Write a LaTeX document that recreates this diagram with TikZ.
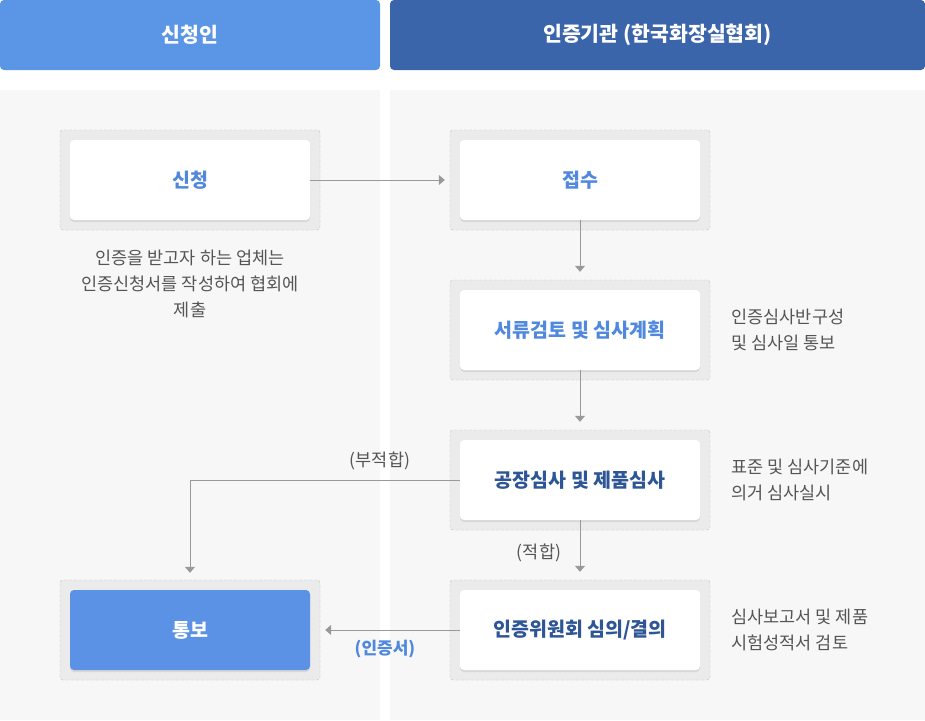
\documentclass[tikz,border=0pt]{standalone}
\usepackage{fontspec}
\setmainfont{Noto Sans CJK KR}
\usetikzlibrary{arrows.meta,shadows}
\definecolor{headlight}{HTML}{5B95E6}
\definecolor{headdark}{HTML}{3A65AA}
\definecolor{colbg}{HTML}{F7F7F7}
\definecolor{boxbg}{HTML}{EBEBEB}
\definecolor{boxline}{HTML}{C2C2C2}
\definecolor{linegray}{HTML}{999999}
\definecolor{txtblue}{HTML}{4F88DD}
\definecolor{txtnavy}{HTML}{2E5596}
\definecolor{txtgray}{HTML}{555555}
\definecolor{noticefill}{HTML}{5B92E5}
\begin{document}
\begin{tikzpicture}
[x=1pt,y=-1pt,
head/.style={rounded corners=4pt,minimum height=70pt,text=white,font=\bfseries\fontsize{20.5}{24}\selectfont},
outer/.style={draw=boxline,dashed,dash pattern=on 3pt off 2pt,fill=boxbg,rounded corners=3pt,minimum width=260pt,minimum height=100pt},
inner/.style={fill=white,rounded corners=4pt,minimum width=240pt,minimum height=80pt,
  drop shadow={shadow xshift=0pt,shadow yshift=-2pt,opacity=.18},
  text=txtblue,font=\bfseries\fontsize{19.5}{23}\selectfont},
desc/.style={text=txtgray,font=\fontsize{17.5}{26}\selectfont},
tag/.style={text=txtgray,font=\fontsize{17.5}{20}\selectfont},
link/.style={draw=linegray,line width=1pt,-{Triangle[width=10pt,length=6pt]}}]
\useasboundingbox (0,0) rectangle (925,720);
% columns
\fill[colbg] (0,90) rectangle (380,720);
\fill[colbg] (390,90) rectangle (925,720);
\node[head,fill=headlight,minimum width=380pt] (applicant) at (190,35) {신청인};
\node[head,fill=headdark,minimum width=535pt] (agency) at (657.5,35) {인증기관 (한국화장실협회)};
% steps
\node[outer] (apply-bg) at (190,180) {};
\node[inner] (apply) at (190,180) {신청};
\node[outer] (receive-bg) at (580,180) {};
\node[inner] (receive) at (580,180) {접수};
\node[outer] (review-bg) at (580,330) {};
\node[inner] (review) at (580,330) {서류검토 및 심사계획};
\node[outer] (audit-bg) at (580,480) {};
\node[inner,text=txtnavy] (audit) at (580,480) {공장심사 및 제품심사};
\node[outer] (decide-bg) at (580,630) {};
\node[inner,text=txtnavy] (decide) at (580,630) {인증위원회 심의/결의};
\node[outer] (notice-bg) at (190,630) {};
\node[inner,fill=noticefill,text=white] (notice) at (190,630) {통보};
% notes
\node[desc,align=center] (apply-note) at (190,284) {인증을 받고자 하는 업체는\\인증신청서를 작성하여 협회에\\제출};
\node[desc,align=left,anchor=west] (review-note) at (728,330) {인증심사반구성\\및 심사일 통보};
\node[desc,align=left,anchor=west] (audit-note) at (728,480) {표준 및 심사기준에\\의거 심사실시};
\node[desc,align=left,anchor=west] (decide-note) at (728,630) {심사보고서 및 제품\\시험성적서 검토};
% connectors
\draw[link,shorten >=5pt] (apply) -- (receive-bg);
\draw[link,shorten >=8pt] (receive) -- (review-bg);
\draw[link,shorten >=8pt] (review) -- (audit-bg);
\draw[link,shorten >=8pt] (audit) -- (decide-bg);
\draw[link,shorten >=7pt] (audit) -| (notice-bg);
\draw[link,shorten >=5pt] (decide) -- (notice-bg);
\node[tag] (unfit) at (380,461) {(부적합)};
\node[tag] (fit) at (539,553) {(적합)};
\node[tag,text=txtblue,font=\bfseries\fontsize{17}{20}\selectfont] (cert) at (385,649) {(인증서)};
\end{tikzpicture}
\end{document}
